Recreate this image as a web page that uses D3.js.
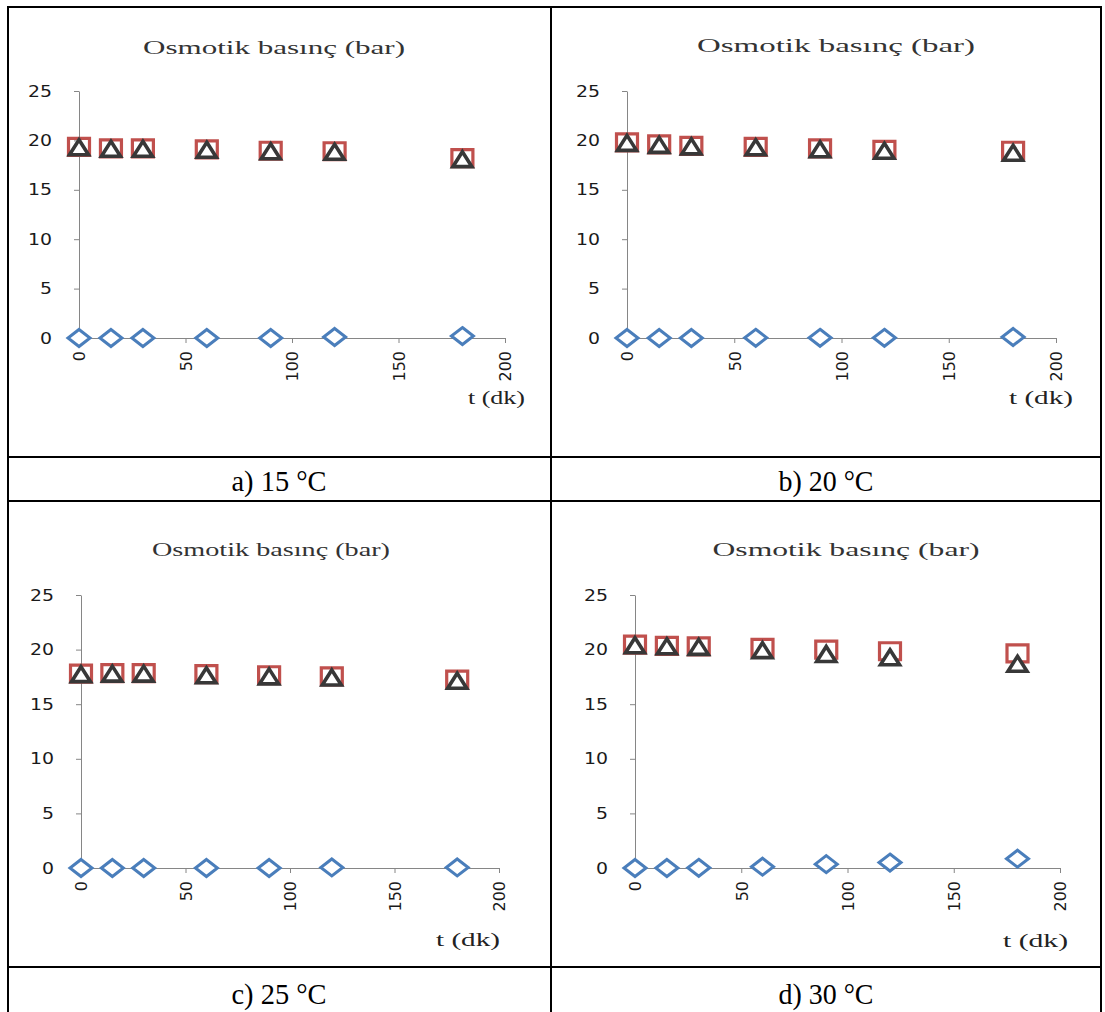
<!DOCTYPE html>
<html>
<head>
<meta charset="utf-8">
<script src="https://cdn.jsdelivr.net/npm/d3@7"></script>
<style>
  body { margin: 0; background: #fff }
  svg { display: block }
</style>
</head>
<body>
<svg id="chart" width="1105" height="1012"></svg>
<script>
// values
var times = [0, 15, 30, 60, 90, 120, 180]
  , yTicks = [0, 5, 10, 15, 20, 25]
  , xTicks = [0, 50, 100, 150, 200]
  , title = 'Osmotik basınç (bar)'
  , xLabel = 't (dk)'
  , captions = ['a) 15 °C', 'b) 20 °C', 'c) 25 °C', 'd) 30 °C']

var diamondsA = [0, 0, 0, 0, 0, 0.1, 0.2]
  , squaresA = [19.35, 19.2, 19.2, 19.1, 18.95, 18.9, 18.2]
  , trianglesA = [19.3, 19.15, 19.15, 19.05, 18.9, 18.85, 18.1]

var diamondsB = [0, 0, 0, 0.02, 0.02, 0.02, 0.1]
  , squaresB = [19.8, 19.6, 19.45, 19.35, 19.2, 19.05, 18.95]
  , trianglesB = [19.75, 19.55, 19.4, 19.3, 19.1, 18.95, 18.75]

var diamondsC = [0, 0, 0, 0, 0, 0.05, 0.05]
  , squaresC = [17.8, 17.85, 17.85, 17.75, 17.65, 17.55, 17.25]
  , trianglesC = [17.75, 17.8, 17.8, 17.65, 17.55, 17.45, 17.15]

var diamondsD = [0, 0, 0.02, 0.12, 0.35, 0.5, 0.85]
  , squaresD = [20.45, 20.35, 20.3, 20.15, 20.0, 19.85, 19.65]
  , trianglesD = [20.4, 20.3, 20.25, 19.95, 19.6, 19.3, 18.7]

// layout of each plot inside the table (pixels)
var panels = [
  { x0: 79, x1: 505, y0: 338, y1: 91, titleX: 274, titleY: 54, titleW: 262, labX: 525, labY: 404, labW: 57,
    series: [diamondsA, squaresA, trianglesA] },
  { x0: 627, x1: 1056, y0: 338, y1: 91, titleX: 836, titleY: 52, titleW: 278, labX: 1073, labY: 404, labW: 64,
    series: [diamondsB, squaresB, trianglesB] },
  { x0: 81, x1: 499, y0: 868, y1: 595, titleX: 271, titleY: 556, titleW: 238, labX: 500, labY: 946, labW: 64,
    series: [diamondsC, squaresC, trianglesC] },
  { x0: 635, x1: 1060, y0: 868, y1: 595, titleX: 846, titleY: 556, titleW: 267, labX: 1068, labY: 947, labW: 65,
    series: [diamondsD, squaresD, trianglesD] }
]

var svg = d3.select('#chart')
  , serif = '"Liberation Serif", "Times New Roman", serif'
  , sans = '"DejaVu Sans", Verdana, sans-serif'
  , axisColor = '#868686'

// marker shapes, Excel style
var markers = [
  { color: '#4a7ebb', width: 3, path: 'M0,-8.5L11,0L0,8.5L-11,0Z' },
  { color: '#c0504d', width: 3.2, path: 'M-10.5,-8.5H10.5V8.5H-10.5Z' },
  { color: '#383838', width: 3.6, path: 'M0,-7.5L9.5,7.5L-9.5,7.5Z' }
]

// table grid
var table = svg.append('g')
  .attr('fill', 'none')
  .attr('stroke', '#000')
  .attr('stroke-width', 2)
table.append('rect').attr('x', 8).attr('y', 7).attr('width', 1093).attr('height', 1010)
table.append('line').attr('x1', 551).attr('x2', 551).attr('y1', 7).attr('y2', 1017)
var rowLines = [457, 501, 967]
rowLines.forEach(function(y) {
  table.append('line').attr('x1', 8).attr('x2', 1101).attr('y1', y).attr('y2', y)
})

// captions
var capPos = [[279, 491], [826, 491], [279, 1004], [826, 1004]]
captions.forEach(function(c, i) {
  svg.append('text')
    .attr('x', capPos[i][0])
    .attr('y', capPos[i][1])
    .attr('text-anchor', 'middle')
    .attr('font-family', serif)
    .attr('font-size', 30)
    .attr('fill', '#000')
    .attr('textLength', 95)
    .attr('lengthAdjust', 'spacingAndGlyphs')
    .text(c)
})

panels.forEach(function(p) {
  var g = svg.append('g')
    , x = d3.scaleLinear().domain([0, 200]).range([p.x0, p.x1])
    , y = d3.scaleLinear().domain([0, 25]).range([p.y0, p.y1])

  // title
  g.append('text')
    .attr('x', p.titleX)
    .attr('y', p.titleY)
    .attr('text-anchor', 'middle')
    .attr('font-family', serif)
    .attr('font-size', 19)
    .attr('fill', '#333')
    .attr('textLength', p.titleW)
    .attr('lengthAdjust', 'spacingAndGlyphs')
    .text(title)

  // y axis
  var yAxis = g.append('g')
    .attr('transform', 'translate(' + p.x0 + ',0)')
    .call(d3.axisLeft(y).tickValues(yTicks).tickSizeInner(5).tickSizeOuter(0).tickPadding(22))
  yAxis.selectAll('path, line').attr('stroke', axisColor)
  yAxis.selectAll('text')
    .attr('font-family', sans)
    .attr('font-size', 16)
    .attr('fill', '#1a1a1a')
    .attr('textLength', function(d) { return String(d).length * 12 })
    .attr('lengthAdjust', 'spacingAndGlyphs')

  // x axis, labels turned upright
  var xAxis = g.append('g')
    .attr('transform', 'translate(0,' + p.y0 + ')')
    .call(d3.axisBottom(x).tickValues(xTicks).tickSizeInner(5).tickSizeOuter(0))
  xAxis.selectAll('path, line').attr('stroke', axisColor)
  xAxis.selectAll('text')
    .attr('font-family', sans)
    .attr('font-size', 16)
    .attr('fill', '#1a1a1a')
    .attr('text-anchor', 'end')
    .attr('transform', 'translate(0,13) rotate(-90)')
    .attr('x', 0)
    .attr('y', 0)
    .attr('dy', '0.36em')

  // axis label
  g.append('text')
    .attr('x', p.labX)
    .attr('y', p.labY)
    .attr('text-anchor', 'end')
    .attr('font-family', serif)
    .attr('font-size', 19)
    .attr('fill', '#222')
    .attr('textLength', p.labW)
    .attr('lengthAdjust', 'spacingAndGlyphs')
    .text(xLabel)

  // markers
  p.series.forEach(function(vals, si) {
    var m = markers[si]
    g.append('g').selectAll('path')
      .data(vals)
      .join('path')
      .attr('d', m.path)
      .attr('transform', function(v, i) { return 'translate(' + x(times[i]) + ',' + y(v) + ')' })
      .attr('fill', si == 1 ? 'none' : '#fff')
      .attr('stroke', m.color)
      .attr('stroke-width', m.width)
      .attr('stroke-linejoin', 'miter')
  })
})
</script>
</body>
</html>
